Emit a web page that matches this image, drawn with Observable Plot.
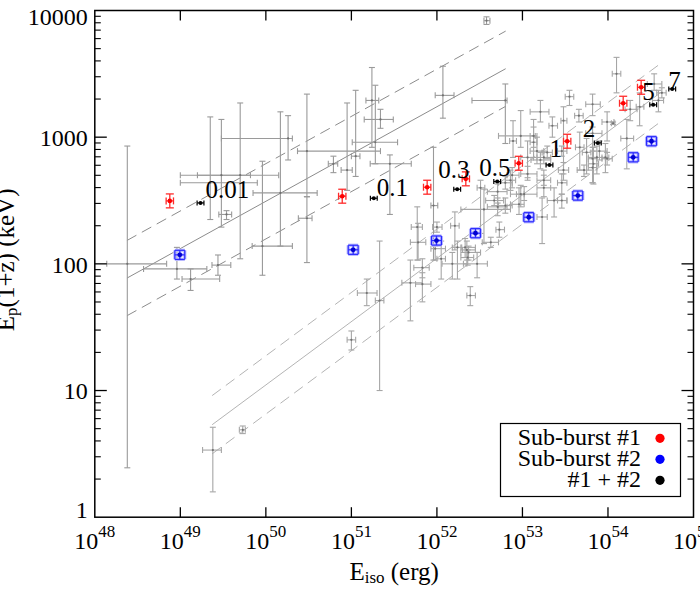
<!DOCTYPE html>
<html><head><meta charset="utf-8">
<script src="https://cdn.jsdelivr.net/npm/d3@7"></script>
<script src="https://cdn.jsdelivr.net/npm/@observablehq/plot@0.6"></script>
<style>body{margin:0;background:#fff}</style>
</head><body><div id="chart"></div>
<script>
// ---- DATA (log10 values) ----
// grey sample: [log Eiso, log Ep, log Eiso low, log Eiso high, log Ep low, log Ep high]
const greyShort = [
[48.38,2.00,48.14,48.84,0.39,2.93],[48.96,1.96,48.57,49.31,1.88,2.13],[49.12,1.88,49.02,49.46,1.79,1.96],
[49.44,1.99,49.37,49.59,1.91,2.07],[49.54,2.39,49.45,49.60,2.35,2.42],[49.35,2.64,49.00,49.90,2.35,3.16],
[49.70,2.70,49.20,50.15,2.04,3.27],[49.48,2.70,49.00,49.82,2.29,3.14],[49.96,2.14,49.84,50.31,1.91,2.81],
[50.17,2.56,49.85,50.60,2.14,3.20],[50.26,2.99,49.48,50.31,2.82,3.17],[50.48,2.89,50.37,51.34,2.53,3.34],
[50.48,2.36,50.38,50.54,2.01,2.53],[50.79,2.79,50.73,50.84,2.72,2.85],[50.95,2.74,50.88,51.01,2.58,3.27],
[51.05,2.85,51.00,51.10,2.69,3.37],[51.34,3.14,51.15,51.49,3.07,3.22],[51.24,3.29,51.17,51.32,2.92,3.55],
[51.28,2.96,51.01,51.54,2.79,3.41],[51.45,2.79,51.22,51.70,2.39,2.86],[51.96,2.46,51.93,52.01,2.03,2.92],
[52.07,3.33,51.98,52.20,3.15,3.56],[52.80,3.29,52.41,52.82,2.95,3.42],[52.58,3.92,52.55,52.62,3.89,3.95]
];
const greyLong = [
[49.38,0.53,49.26,49.48,0.20,0.71],[49.73,0.69,49.69,49.76,0.66,0.72],[51.00,1.40,50.95,51.05,1.32,1.47],
[51.33,1.71,51.28,51.38,1.00,2.18],[51.18,1.77,51.07,51.30,1.67,1.88],[51.77,2.29,51.70,51.83,2.03,2.45],
[51.78,2.17,51.69,51.87,2.03,2.32],[51.98,2.12,51.93,52.10,2.03,2.14],[51.83,1.97,51.73,51.91,1.89,2.04],
[51.69,1.85,51.59,51.83,1.55,2.03],[51.83,1.84,51.75,51.93,1.70,1.93],[52.05,2.04,52.00,52.10,1.88,2.18],
[52.21,2.30,52.16,52.26,2.11,2.41],[52.18,2.00,52.06,52.35,1.88,2.09],[52.33,2.13,52.28,52.45,2.05,2.20],
[52.37,2.09,52.28,52.51,2.03,2.14],[52.36,2.05,52.28,52.43,1.99,2.11],[52.47,2.00,52.31,52.59,1.89,2.09],
[52.39,1.75,52.35,52.45,1.67,1.82],[52.55,2.43,52.28,52.86,2.16,2.59],[52.63,2.17,52.53,52.72,2.13,2.21],
[52.73,2.27,52.69,52.79,2.21,2.33],[52.71,2.45,52.59,52.82,2.38,2.52],[52.80,2.46,52.72,52.88,2.40,2.52],
[52.96,2.47,52.86,53.02,2.39,2.60],[53.02,2.55,52.86,53.17,2.50,2.61],[53.23,2.37,53.17,53.29,2.16,2.52],
[52.71,2.57,52.59,52.82,2.48,2.63],[52.80,2.64,52.72,52.88,2.59,2.69],[52.88,2.70,52.82,52.96,2.60,2.76],
[53.06,2.84,52.98,53.13,2.68,2.97],[53.06,2.71,52.98,53.17,2.66,2.77],[53.17,2.89,53.09,53.25,2.79,3.00],
[53.21,2.82,53.10,53.33,2.75,2.88],[53.29,2.88,53.23,53.35,2.83,2.93],[53.25,2.60,53.17,53.33,2.53,2.74],
[53.37,2.50,53.29,53.52,2.37,2.60],[53.46,2.50,53.41,53.52,2.44,2.55],[53.46,2.64,53.41,53.52,2.55,2.71],
[53.83,2.79,53.77,53.89,2.63,2.92],[53.72,2.74,53.64,53.83,2.69,2.78],[54.10,3.50,54.05,54.15,3.35,3.63],
[53.55,3.32,53.50,53.60,3.25,3.37],[53.82,3.26,53.74,53.91,3.17,3.34],[53.21,3.20,53.09,53.31,3.12,3.29],
[53.48,3.13,53.45,53.52,2.71,3.24],[53.66,3.17,53.61,53.71,3.12,3.22],[53.35,3.09,53.31,53.41,3.00,3.16],
[53.99,3.12,53.93,54.07,2.97,3.20],[54.06,3.11,54.04,54.08,3.10,3.12],[53.82,3.03,53.74,53.93,2.89,3.08],
[53.13,3.01,53.09,53.17,2.92,3.08],[53.87,2.84,53.77,53.97,2.71,2.93],[53.99,2.83,53.93,54.05,2.78,2.88],
[54.22,2.99,54.15,54.30,2.75,3.14],[54.26,3.22,54.20,54.34,3.13,3.29],[54.37,3.24,54.33,54.42,3.09,3.35],
[54.54,3.42,54.46,54.63,3.37,3.50],[54.59,3.29,54.52,54.65,3.20,3.37],[54.63,3.35,54.57,54.68,3.31,3.39],
[52.98,3.01,52.72,53.15,2.92,3.21],[52.89,2.97,52.85,52.93,2.84,3.13],[53.13,2.96,53.09,53.17,2.84,3.14],
[53.25,2.84,53.17,53.33,2.79,2.89],[53.67,2.92,53.62,53.72,2.74,3.04],[53.75,2.88,53.70,53.80,2.71,2.99],
[53.82,2.83,53.77,53.87,2.64,2.92],[53.90,2.89,53.83,53.99,2.82,2.97],[53.97,2.84,53.93,54.01,2.72,2.95],
[52.98,2.55,52.93,53.02,2.45,2.62],[52.86,2.66,52.80,52.92,2.58,2.74],[52.67,2.50,52.57,52.78,2.46,2.54],
[52.35,2.11,52.30,52.45,2.03,2.18],[52.00,2.29,51.95,52.06,2.25,2.33],[53.48,2.74,53.42,53.54,2.66,2.80],
[53.25,2.66,53.17,53.33,2.62,2.70],[53.82,2.76,53.77,53.87,2.64,2.84],[53.46,2.89,53.41,53.52,2.85,2.93],
[52.51,2.60,52.47,52.56,2.24,2.66],[52.24,2.13,52.18,52.29,1.88,2.18]
];
// coloured points: [log Eiso, log Ep, err log Eiso, err log Ep]
const sub1 = [[48.877,2.497,0.043,0.055],[50.893,2.534,0.043,0.055],[51.886,2.605,0.043,0.055],[52.338,2.671,0.043,0.055],
              [52.957,2.794,0.043,0.055],[53.523,2.968,0.043,0.055],[54.178,3.268,0.043,0.055],[54.388,3.394,0.043,0.055]];
const sub2 = [[48.994,2.071,0.058,0.036],[51.021,2.111,0.058,0.036],[51.995,2.184,0.058,0.036],[52.451,2.242,0.058,0.036],
              [53.074,2.368,0.058,0.036],[53.647,2.539,0.058,0.036],[54.295,2.841,0.058,0.036],[54.509,2.968,0.058,0.036]];
const both = [[49.236,2.481,0.04,0],[51.262,2.518,0.04,0],[52.237,2.589,0.04,0],[52.705,2.650,0.04,0],
              [53.316,2.781,0.04,0],[53.881,2.955,0.04,0],[54.529,3.255,0.04,0],[54.751,3.381,0.04,0]];
const bothLabels = ["0.01","0.1","0.3","0.5","1","2","5","7"];
// fitted relations: end points (log) and 1-sigma spread (log)
const fitShort = {x:[48.38,52.80], y:[1.889,3.539], spread:0.297};
const fitLong  = {x:[49.376,54.614], y:[0.732,3.351], spread:0.23};
// ticks
const xTicks = [1e48,1e49,1e50,1e51,1e52,1e53,1e54,1e55];
const yTicks = [1,10,100,1000,10000];
const legendItems = [["Sub-burst #1","#ff0000"],["Sub-burst #2","#0000ff"],["#1 + #2","#000000"]];

// ---- layout / styles ----
const labelOffsets = [[5,-13],[3,-10],[-19,-19],[-18,-14],[0,-16],[-15,-14],[-11,-13],[-4,-8]];
const FONT = "Liberation Serif, Times New Roman, serif";
const P = v => Math.pow(10, v);
const hcap = w => ({draw(c){c.moveTo(-w,0);c.lineTo(w,0);}});
const vcap = h => ({draw(c){c.moveTo(0,-h);c.lineTo(0,h);}});
const tk = (dx,dy) => ({draw(c){c.moveTo(0,0);c.lineTo(dx,dy);}});

function errorBars(data, o) {
  const m = [];
  m.push(Plot.link(data, {x1:d=>P(d[2]), x2:d=>P(d[3]), y1:d=>P(d[1]), y2:d=>P(d[1]), stroke:o.stroke, strokeWidth:o.sw}));
  m.push(Plot.link(data, {x1:d=>P(d[0]), x2:d=>P(d[0]), y1:d=>P(d[4]), y2:d=>P(d[5]), stroke:o.stroke, strokeWidth:o.sw}));
  for (const k of [2,3]) m.push(Plot.dot(data, {x:d=>P(d[k]), y:d=>P(d[1]), symbol:vcap(3), stroke:o.stroke, fill:"none", strokeWidth:o.sw}));
  for (const k of [4,5]) m.push(Plot.dot(data, {x:d=>P(d[0]), y:d=>P(d[k]), symbol:hcap(3), stroke:o.stroke, fill:"none", strokeWidth:o.sw}));
  m.push(Plot.dot(data, {x:d=>P(d[0]), y:d=>P(d[1]), r:1.1, fill:o.dot, stroke:"none"}));
  return m;
}
function colourBars(data, o) {
  const m = [];
  const xl=d=>P(d[0]-d[2]), xh=d=>P(d[0]+d[2]), yl=d=>P(d[1]-d[3]), yh=d=>P(d[1]+d[3]);
  const layers = o.halo ? [[o.halo, o.sw+2], [o.stroke, o.sw]] : [[o.stroke, o.sw]];
  for (const [col, sw] of layers) {
    m.push(Plot.link(data, {x1:xl, x2:xh, y1:d=>P(d[1]), y2:d=>P(d[1]), stroke:col, strokeWidth:sw}));
    m.push(Plot.dot(data, {x:xl, y:d=>P(d[1]), symbol:vcap(o.capX), stroke:col, fill:"none", strokeWidth:sw}));
    m.push(Plot.dot(data, {x:xh, y:d=>P(d[1]), symbol:vcap(o.capX), stroke:col, fill:"none", strokeWidth:sw}));
    if (o.yerr) {
      m.push(Plot.link(data, {x1:d=>P(d[0]), x2:d=>P(d[0]), y1:yl, y2:yh, stroke:col, strokeWidth:sw}));
      m.push(Plot.dot(data, {x:d=>P(d[0]), y:yl, symbol:hcap(o.capY), stroke:col, fill:"none", strokeWidth:sw}));
      m.push(Plot.dot(data, {x:d=>P(d[0]), y:yh, symbol:hcap(o.capY), stroke:col, fill:"none", strokeWidth:sw}));
    }
  }
  m.push(Plot.dot(data, {x:d=>P(d[0]), y:d=>P(d[1]), r:o.r, fill:o.dot, stroke:"none"}));
  return m;
}
function fitLines(f, solidCol, dashCol) {
  const seg = off => [0,1].map(i => ({x:P(f.x[i]), y:P(f.y[i]+off)}));
  return [
    Plot.line(seg(0), {x:"x", y:"y", stroke:solidCol, strokeWidth:1}),
    Plot.line(seg(f.spread), {x:"x", y:"y", stroke:dashCol, strokeWidth:1, strokeDasharray:"10,7"}),
    Plot.line(seg(-f.spread), {x:"x", y:"y", stroke:dashCol, strokeWidth:1, strokeDasharray:"10,7"})
  ];
}
const yMinor = [];
for (let e=0;e<4;e++) for (let k=2;k<=9;k++) yMinor.push(k*Math.pow(10,e));
const xInner = xTicks.slice(1,-1), yInner = yTicks.slice(1,-1);

const marks = [
  ...fitLines(fitShort, "#8c8c8c", "#8c8c8c"),
  ...fitLines(fitLong, "#b4b4b4", "#b4b4b4"),
  ...errorBars(greyShort, {stroke:"#9a9a9a", sw:1.1, dot:"#707070"}),
  ...errorBars(greyLong, {stroke:"#a6a6a6", sw:1.1, dot:"#707070"}),
  ...colourBars(sub1, {stroke:"#ff2a2a", sw:1.3, capX:3.5, capY:4, yerr:true, r:2.3, dot:"#ff0000"}),
  ...colourBars(sub2, {stroke:"#2a2aff", halo:"#b8b8ff", sw:1.2, capX:4.5, capY:5, yerr:true, r:2.4, dot:"#0000d0"}),
  ...colourBars(both, {stroke:"#000000", sw:1.2, capX:2.5, yerr:false, r:2, dot:"#000000"}),
  ...both.map((d,i) => Plot.text([d], {x:d=>P(d[0]), y:d=>P(d[1]), text:()=>bothLabels[i], dx:labelOffsets[i][0], dy:labelOffsets[i][1],
      textAnchor:"start", fontSize:25, fill:"black"})),
  // axis ticks (inward, all four sides)
  Plot.dot(yInner, {y:d=>d, frameAnchor:"left", symbol:tk(12,0), stroke:"black", strokeWidth:1.3}),
  Plot.dot(yInner, {y:d=>d, frameAnchor:"right", symbol:tk(-12,0), stroke:"black", strokeWidth:1.3}),
  Plot.dot(yMinor, {y:d=>d, frameAnchor:"left", symbol:tk(6,0), stroke:"black", strokeWidth:1.1}),
  Plot.dot(yMinor, {y:d=>d, frameAnchor:"right", symbol:tk(-6,0), stroke:"black", strokeWidth:1.1}),
  Plot.dot(xInner, {x:d=>d, frameAnchor:"bottom", symbol:tk(0,-10), stroke:"black", strokeWidth:1.3}),
  Plot.dot(xInner, {x:d=>d, frameAnchor:"top", symbol:tk(0,10), stroke:"black", strokeWidth:1.3}),
  // tick labels
  Plot.text(yTicks.filter(d=>d>1 && d<1e4), {y:d=>d, frameAnchor:"left", dx:-7, dy:1, textAnchor:"end", text:d=>String(d), fontSize:24, fill:"black"}),
  Plot.text([1e4], {y:d=>d, frameAnchor:"left", dx:-7, dy:6.5, textAnchor:"end", text:d=>String(d), fontSize:24, fill:"black"}),
  Plot.text([1], {y:d=>d, frameAnchor:"left", dx:-7, dy:-6.5, textAnchor:"end", text:d=>String(d), fontSize:24, fill:"black"}),
  Plot.text(xTicks, {x:d=>d, frameAnchor:"bottom", dy:31.6, lineAnchor:"bottom", textAnchor:"middle",
      text:d=>`10^{${Math.round(Math.log10(d))}}`, fontSize:24, fill:"black"}),
  // axis titles
  Plot.text(["E_{iso} (erg)"], {frameAnchor:"bottom", dy:62.6, lineAnchor:"bottom", textAnchor:"middle", fontSize:25, fill:"black"}),
  Plot.text(["E_{p}(1+z) (keV)"], {frameAnchor:"left", dx:-81, dy:-4, rotate:-90, lineAnchor:"bottom", textAnchor:"middle", fontSize:25, fill:"black"}),
  Plot.frame({stroke:"black", strokeWidth:1.5})
];

const svg = Plot.plot({
  width:700, height:600,
  marginLeft:94.3, marginRight:7, marginTop:10, marginBottom:83.3,
  x:{type:"log", domain:[1e48,1e55], axis:null},
  y:{type:"log", domain:[1,1e4], axis:null},
  style:{fontFamily:FONT, background:"white", color:"black", overflow:"hidden"},
  marks
});
document.getElementById("chart").appendChild(svg);

// rich text: ^{...} superscript, _{...} subscript
const NS = "http://www.w3.org/2000/svg";
svg.querySelectorAll("text").forEach(t => {
  const s = t.textContent;
  if (!/[\^_]\{/.test(s)) return;
  while (t.firstChild) t.removeChild(t.firstChild);
  const re = /([\^_])\{([^}]*)\}/g;
  let last = 0, cur = 0, m;
  const push = (txt, target, size) => {
    const sp = document.createElementNS(NS, "tspan");
    sp.textContent = txt;
    const dy = target - cur; cur = target;
    if (dy) sp.setAttribute("dy", dy);
    if (size) sp.setAttribute("font-size", size);
    t.appendChild(sp);
  };
  while ((m = re.exec(s))) {
    if (m.index > last) push(s.slice(last, m.index), 0);
    if (m[1] === "^") push(m[2], -11.5, 17); else push(m[2], 3.5, 17);
    last = re.lastIndex;
  }
  if (last < s.length) push(s.slice(last), 0);
});

// legend box
const lg = d3.select(svg).append("g").attr("font-family", FONT);
lg.append("rect").attr("x",500.5).attr("y",423.5).attr("width",180).attr("height",73)
  .attr("fill","white").attr("stroke","black").attr("stroke-width",1.2);
const rowBase = [444.5, 466, 487], rowDot = [438.3, 459.3, 480.3];
legendItems.forEach(([lab, col], i) => {
  lg.append("text").attr("x",641).attr("y",rowBase[i]).attr("text-anchor","end")
    .attr("font-size",24).attr("fill","black").text(lab);
  lg.append("circle").attr("cx",660).attr("cy",rowDot[i]).attr("r",4.6).attr("fill",col);
});
</script>
</body></html>
